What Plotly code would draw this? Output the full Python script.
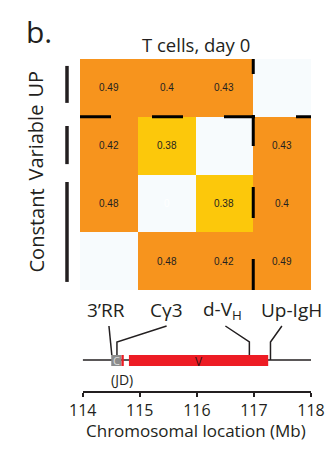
import plotly.graph_objects as go

W, H = 329, 450

# Interaction frequencies between the four IgH elements (rows top→bottom, columns left→right)
col_labels = ["3\u2019RR", "C\u03b33", "d-V<sub>H</sub>", "Up-IgH"]
row_groups = ["UP", "Variable", "Constant"]
values = [
    [0.49, 0.40, 0.43, None],
    [0.42, 0.38, None, 0.43],
    [0.48, 0, 0.38, 0.40],
    [None, 0.48, 0.42, 0.49],
]

# Genomic features on the locus track (Mb)
feat_names = ["C", "JD", "V"]
feat_start = [114.50, 114.68, 114.81]
feat_end = [114.68, 114.72, 117.25]
feat_colors = ["#8c8c8c", "#ed1c24", "#ed1c24"]
track_start, track_end = 114.0, 118.0
axis_ticks = [114, 115, 116, 117, 118]

ORANGE = "#f7941d"
YELLOW = "#fcc80b"
PALE = "#f7fbfd"
INK = "#231f20"
FONT = "Open Sans"


def px_x(p):
    return p / W


def px_y(p):
    return 1 - p / H


def label(**kw):
    base = dict(showarrow=False, xanchor="center", yanchor="middle")
    base.update(kw)
    return base


fig = go.Figure()

fig.add_trace(go.Heatmap(
    z=values,
    x=[0, 1, 2, 3],
    y=[0, 1, 2, 3],
    zmin=0, zmax=0.5,
    colorscale=[[0, PALE], [0.7, PALE], [0.7, YELLOW], [0.78, YELLOW],
                [0.78, ORANGE], [1, ORANGE]],
    showscale=False,
    hoverinfo="skip",
    xaxis="x", yaxis="y",
))

# locus baseline
fig.add_trace(go.Scatter(
    x=[track_start, track_end], y=[px_y(360), px_y(360)], mode="lines",
    line=dict(color=INK, width=1.5), hoverinfo="skip", showlegend=False,
    xaxis="x2", yaxis="y2",
))

annotations = []
shapes = []

# pale backdrop for the empty diagonal
shapes.append(dict(type="rect", xref="x", yref="y", x0=-0.5, x1=3.5, y0=-0.5, y1=3.5,
                   fillcolor=PALE, line=dict(width=0), layer="below"))

# cell labels
for r, row in enumerate(values):
    for c, v in enumerate(row):
        if v is None:
            continue
        annotations.append(label(
            x=c, y=r, xref="x", yref="y", text=f"{v:g}",
            font=dict(family="Liberation Sans", size=10,
                      color="#ffffff" if v == 0 else INK),
        ))

# dashed cross separating the Up-IgH row/column block
dash = "31px,41px"
shapes.append(dict(type="line", xref="x", yref="y", x0=-0.5, x1=3.5, y0=0.5, y1=0.5,
                   line=dict(color="#000000", width=3, dash=dash)))
shapes.append(dict(type="line", xref="x", yref="y", x0=2.5, x1=2.5, y0=3.5, y1=-0.5,
                   line=dict(color="#000000", width=3, dash=dash)))

# row group brackets and labels
group_spans = [(-0.38, 0.26), (0.66, 1.32), (1.63, 3.36)]
group_label_y = [84, 143, 231]
for name, (a, b), ly in zip(row_groups, group_spans, group_label_y):
    shapes.append(dict(type="line", xref="paper", yref="y", x0=px_x(67), x1=px_x(67),
                       y0=a, y1=b, line=dict(color=INK, width=3.5)))
    annotations.append(label(x=px_x(35.5), y=px_y(ly), xref="paper", yref="paper",
                             text=name, textangle=-90,
                             font=dict(family=FONT, size=20, color=INK)))

# column labels under the matrix
col_nudge = [-0.05, -0.01, -0.04, 0.16]
for c, (lab, dx) in enumerate(zip(col_labels, col_nudge)):
    annotations.append(label(x=c + dx, y=px_y(310), xref="x", yref="paper", text=lab,
                             font=dict(family=FONT, size=19, color=INK)))

# connectors from labels to the locus
y_top, y_knee, y_gene, y_line = px_y(326), px_y(342), px_y(355), px_y(360)
connectors = [
    [(114.46, y_top), (114.51, y_gene)],
    [(115.47, y_top), (114.60, y_knee), (114.60, y_gene)],
    [(116.50, y_top), (116.92, y_knee), (116.92, y_gene)],
    [(117.49, y_top), (117.29, y_knee), (117.29, y_line)],
]
for pts in connectors:
    path = "M " + " L ".join(f"{x},{y}" for x, y in pts)
    shapes.append(dict(type="path", xref="x2", yref="paper", path=path,
                       line=dict(color=INK, width=1.5)))

# locus features
g0, g1 = px_y(366), px_y(355)
for name, s, e, col in zip(feat_names, feat_start, feat_end, feat_colors):
    shapes.append(dict(type="rect", xref="x2", yref="paper", x0=s, x1=e, y0=g0, y1=g1,
                       fillcolor=col, line=dict(width=0)))
annotations.append(label(x=(feat_start[0] + feat_end[0]) / 2, y=px_y(360.5), xref="x2",
                         yref="paper", text="C",
                         font=dict(family=FONT, size=11, color="#dcdcdc")))
annotations.append(label(x=(feat_start[2] + feat_end[2]) / 2, y=px_y(361), xref="x2",
                         yref="paper", text="V",
                         font=dict(family=FONT, size=12, color="#3a1212")))
annotations.append(label(x=feat_start[1], y=px_y(379), xref="x2", yref="paper",
                         text="(JD)", font=dict(family=FONT, size=14, color=INK)))

# headings
annotations.append(label(x=px_x(195.5), y=px_y(45), xref="paper", yref="paper",
                         text="T cells, day 0",
                         font=dict(family=FONT, size=18.5, color=INK)))
annotations.append(label(x=px_x(38.5), y=px_y(31), xref="paper", yref="paper",
                         text="b.", font=dict(family=FONT, size=30, color=INK)))
annotations.append(label(x=px_x(196), y=px_y(430), xref="paper", yref="paper",
                         text="Chromosomal location (Mb)",
                         font=dict(family=FONT, size=17, color=INK)))

fig.update_layout(
    template="none",
    width=W, height=H,
    margin=dict(l=0, r=0, t=0, b=0, pad=0, autoexpand=False),
    paper_bgcolor="white", plot_bgcolor="rgba(0,0,0,0)",
    showlegend=False,
    xaxis=dict(domain=[px_x(80), px_x(311)], range=[-0.5, 3.5], visible=False,
               anchor="y", fixedrange=True, automargin=False),
    yaxis=dict(domain=[px_y(290), px_y(59)], range=[3.5, -0.5], visible=False,
               anchor="x", fixedrange=True, automargin=False),
    xaxis2=dict(domain=[px_x(82.7), px_x(311)], range=[track_start, track_end],
                anchor="y2", showline=True, linecolor=INK, linewidth=1.5,
                ticks="outside", ticklen=4, tickwidth=1.5, tickcolor=INK,
                tickvals=axis_ticks, showgrid=False, zeroline=False, automargin=False,
                tickfont=dict(family=FONT, size=16, color=INK)),
    yaxis2=dict(domain=[px_y(391), px_y(300)], range=[px_y(391), px_y(300)],
                visible=False, anchor="x2", automargin=False),
    shapes=shapes,
    annotations=annotations,
)

fig.write_html("out.html")
